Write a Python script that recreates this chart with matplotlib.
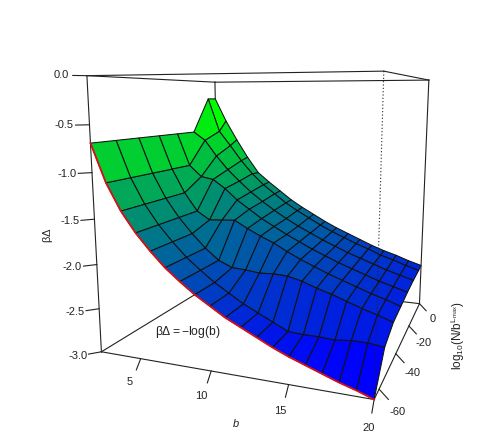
import numpy as np
import matplotlib
matplotlib.use('Agg')
import matplotlib.pyplot as plt
from matplotlib.colors import LinearSegmentedColormap, Normalize
from mpl_toolkits.mplot3d import proj3d

plt.rcParams['font.family'] = ['Liberation Sans', 'DejaVu Sans']
plt.rcParams['mathtext.fontset'] = 'custom'
plt.rcParams['mathtext.rm'] = 'Liberation Sans'
plt.rcParams['mathtext.it'] = 'Liberation Sans:italic'

# grid
b_vals = [2, 3, 4, 5, 6, 7, 8, 9, 10, 11, 12, 13, 14, 15, 16, 17, 18, 19, 20]
n_vals = [-65, -55, -45, -35, -25, -15, -5, 0]

# beta*Delta, one list per N row
z_m65 = [-.69, -1.10, -1.39, -1.61, -1.79, -1.95, -2.08, -2.20, -2.30, -2.40, -2.48, -2.56, -2.64, -2.71, -2.77, -2.83, -2.89, -2.94, -3.00]
z_m55 = [-.69, -1.10, -1.39, -1.61, -1.79, -1.95, -2.08, -2.20, -2.30, -2.40, -2.48, -2.56, -2.64, -2.65, -2.65, -2.66, -2.64, -2.64, -2.66]
z_m45 = [-.69, -1.10, -1.39, -1.61, -1.79, -1.95, -2.08, -2.15, -2.16, -2.18, -2.17, -2.18, -2.22, -2.28, -2.33, -2.39, -2.45, -2.50, -2.56]
z_m35 = [-.69, -1.10, -1.39, -1.61, -1.71, -1.70, -1.69, -1.78, -1.86, -1.93, -2.02, -2.10, -2.17, -2.24, -2.30, -2.36, -2.42, -2.47, -2.53]
z_m25 = [-.69, -1.10, -1.24, -1.27, -1.38, -1.52, -1.63, -1.74, -1.83, -1.92, -2.00, -2.08, -2.15, -2.22, -2.28, -2.34, -2.40, -2.45, -2.50]
z_m15 = [-.69, -.80, -1.01, -1.19, -1.34, -1.48, -1.60, -1.71, -1.81, -1.90, -1.98, -2.06, -2.13, -2.20, -2.26, -2.32, -2.38, -2.43, -2.48]
z_m05 = [-.24, -.70, -.90, -1.11, -1.29, -1.44, -1.56, -1.68, -1.78, -1.87, -1.96, -2.04, -2.11, -2.18, -2.24, -2.31, -2.36, -2.42, -2.47]
z_p00 = [-.24, -.56, -.83, -1.08, -1.30, -1.43, -1.55, -1.67, -1.77, -1.86, -1.95, -2.03, -2.10, -2.17, -2.24, -2.30, -2.35, -2.41, -2.46]

b_ticks = [5, 10, 15, 20]
n_ticks = [0, -20, -40, -60]
z_ticks = [0.0, -0.5, -1.0, -1.5, -2.0, -2.5, -3.0]

B, N = np.meshgrid(b_vals, n_vals)
Z = np.array([z_m65, z_m55, z_m45, z_m35, z_m25, z_m15, z_m05, z_p00])

# facet colour from mean height, blue to green over the facet range
facet = (Z[:-1, :-1] + Z[1:, :-1] + Z[:-1, 1:] + Z[1:, 1:]) / 4
cmap = LinearSegmentedColormap.from_list('bg', ['#0000ff', '#00ff00'])
colors = cmap(Normalize(facet.min(), facet.max())(facet))

W, H = 485, 432
fig = plt.figure(figsize=(W / 100, H / 100), dpi=100, facecolor='white')
ax = fig.add_axes([61.4 / W, 10.3 / H, 420 / W, 420 / H], projection='3d', computed_zorder=False)
ax.set_proj_type('persp', focal_length=0.271)
ax.view_init(elev=10, azim=-69)
ax.set_box_aspect((1.02, 0.97, 1))
x0, x1 = b_vals[0], b_vals[-1]
y0, y1 = n_vals[0], n_vals[-1]
z0, z1 = -3.0, 0.0
ax.set_xlim(x0, x1, view_margin=0)
ax.set_ylim(y0, y1, view_margin=0)
ax.set_zlim(z0, z1, view_margin=0)
ax.set_axis_off()

line = dict(color='#222222', lw=0.8, clip_on=False)


def edge(p, q, zorder=3, **kw):
    opts = {**line, **kw}
    ax.plot([p[0], q[0]], [p[1], q[1]], [p[2], q[2]], zorder=zorder, **opts)


def label(x, y, z, s):
    # place through the 3d projection, then as a plain 2d text
    xp, yp, _ = proj3d.proj_transform(x, y, z, ax.get_proj())
    ax.text2D(xp, yp, s, ha='center', va='center', fontsize=8, color='#222222', transform=ax.transData)


# back of the box goes under the surface
edge((x0, y1, z1), (x0, y1, z0), zorder=1)
edge((x0, y0, z0), (x0, y1, z0), zorder=1)
edge((x0, y1, z0), (x1, y1, z0), zorder=1)
edge((x0, y1, z1), (x1, y1, z1), zorder=1)
edge((x0, y0, z1), (x0, y1, z1), zorder=1)

ax.plot_surface(B, N, Z, facecolors=colors, rstride=1, cstride=1, shade=False,
                edgecolor='#111111', linewidth=0.75, antialiased=True, zorder=2)

edge((x0, y0, z1), (x1, y0, z1))
edge((x1, y0, z1), (x1, y1, z1))
edge((x1, y1, z1), (x1, y1, z0))
edge((x0, y0, z1), (x0, y0, z0))
edge((x0, y0, z0), (x1, y0, z0))
edge((x1, y0, z0), (x1, y1, z0))
edge((x1, y0, z1), (x1, y0, z0), ls=(0, (1, 2)))

# red curve along the front row
ax.plot(b_vals, [y0] * len(b_vals), z_m65, color='#d8101a', lw=1.3, zorder=4, clip_on=False)

# ticks
for b in b_ticks:
    edge((b, y0, z0), (b, y0 - 2, z0 - 0.09))
    label(b, y0 - 5, z0 - 0.17, str(b))
for n in n_ticks:
    edge((x1, n, z0), (x1 + 0.55, n, z0 - 0.09))
    label(x1 + 1.1, n, z0 - 0.2, str(n))
for z in z_ticks:
    edge((x0, y0, z), (x0 - 0.55, y0 - 2.3, z))
    label(x0 - 1.0, y0 - 4.2, z, '%.1f' % z)


def px(x, y):
    return x / W, 1 - y / H


fig.text(*px(236, 424), 'b', style='italic', ha='center', va='center', fontsize=8, color='#222222')
fig.text(*px(48, 235), r'$\mathregular{\beta\Delta}$', rotation=90, ha='center', va='center', fontsize=8, color='#222222')
fig.text(*px(458, 336), r'$\mathregular{log_{10}(N/b^{L_{max}})}$', rotation=90, ha='center', va='center', fontsize=8.5, color='#222222')
fig.text(*px(188, 332), r'$\mathregular{\beta\Delta = -log(b)}$', ha='center', va='center', fontsize=8.7, color='#222222')

fig.savefig('out.png', dpi=100)
